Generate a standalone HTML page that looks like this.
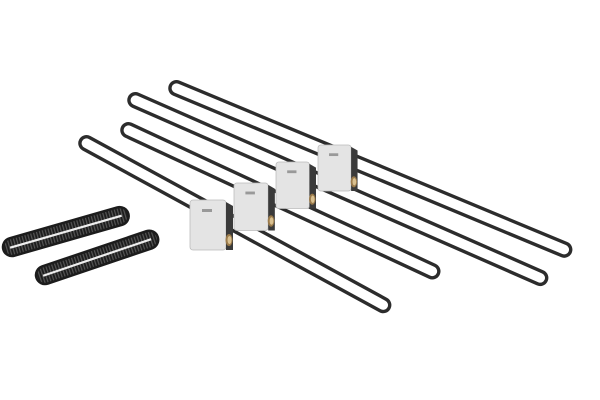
<!DOCTYPE html>
<html><head><style>html,body{margin:0;padding:0;background:#fff;width:600px;height:400px;overflow:hidden}</style></head>
<body>
<svg width="600" height="400" viewBox="0 0 600 400" xmlns="http://www.w3.org/2000/svg">
<defs>
<pattern id="teeth" width="3" height="4" patternUnits="userSpaceOnUse">
  <rect width="3" height="4" fill="#1c1c1c"/><rect width="1.2" height="4" fill="#555"/>
</pattern>
<g id="blk">
  <rect x="0" y="0" width="36" height="50" rx="3" fill="#e4e4e4" stroke="#bbb" stroke-width="0.8"/>
  <path d="M36 2 L43 6 L43 50 L36 50 Z" fill="#3a3a3a"/>
  <rect x="12" y="9" width="10" height="3" fill="#999"/>
  <ellipse cx="39" cy="40" rx="3.5" ry="6" fill="#9a7a4a"/>
  <ellipse cx="39.5" cy="40" rx="2" ry="4" fill="#d9c090"/>
</g>
</defs>
<g fill="none" stroke="#2c2c2c" stroke-width="3.4">
  <rect x="-6" y="-6.5" width="433" height="13" rx="6.5" transform="translate(176,88) rotate(22.6)"/>
  <rect x="-6" y="-6.5" width="455" height="13" rx="6.5" transform="translate(135,100) rotate(23.7)"/>
  <rect x="-6" y="-6.5" width="348" height="13" rx="6.5" transform="translate(128,130) rotate(24.9)"/>
  <rect x="-6" y="-6.5" width="351" height="13" rx="6.5" transform="translate(86,143) rotate(28.6)"/>
</g>
<use href="#blk" transform="translate(318,145) scale(0.92)"/>
<use href="#blk" transform="translate(276,162) scale(0.93)"/>
<use href="#blk" transform="translate(234,183) scale(0.95)"/>
<use href="#blk" transform="translate(190,200)"/>
<g>
  <g transform="translate(12,247) rotate(-16)">
    <rect x="-9" y="-9" width="130" height="18" rx="9" fill="url(#teeth)" stroke="#1c1c1c" stroke-width="2.5"/>
    <rect x="-2" y="-1" width="116" height="2.2" fill="#eee"/>
  </g>
  <g transform="translate(45,275) rotate(-18.7)">
    <rect x="-9" y="-9" width="128" height="18" rx="9" fill="url(#teeth)" stroke="#1c1c1c" stroke-width="2.5"/>
    <rect x="-2" y="-1" width="114" height="2.2" fill="#eee"/>
  </g>
</g>
</svg>
</body></html>
